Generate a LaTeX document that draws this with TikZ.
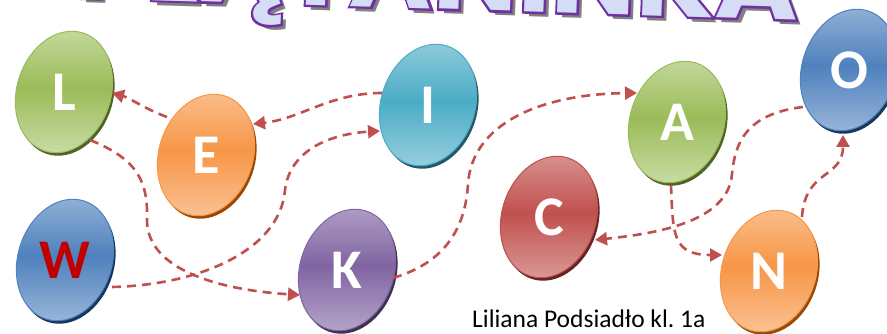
\documentclass[tikz,border=0pt]{standalone}
\usepackage{fontspec}
\setmainfont{Carlito}
\newfontfamily\ttlfont{Poppins}
\newfontfamily\ttlout{Poppins}[FakeBold=4]
\usetikzlibrary{shapes.geometric,arrows.meta,shadows}
\definecolor{grnM}{HTML}{9BBB59}\definecolor{grnL}{HTML}{C6DBA0}\definecolor{grnD}{HTML}{4F6228}
\definecolor{orgM}{HTML}{F79646}\definecolor{orgL}{HTML}{FAC090}\definecolor{orgD}{HTML}{984807}
\definecolor{teaM}{HTML}{4BACC6}\definecolor{teaL}{HTML}{93CDDD}\definecolor{teaD}{HTML}{215968}
\definecolor{bluM}{HTML}{4F81BD}\definecolor{bluL}{HTML}{95B3D7}\definecolor{bluD}{HTML}{17375E}
\definecolor{purM}{HTML}{8064A2}\definecolor{purL}{HTML}{B3A2C7}\definecolor{purD}{HTML}{3F3151}
\definecolor{redM}{HTML}{C0504D}\definecolor{redL}{HTML}{D99694}\definecolor{redD}{HTML}{632523}
\definecolor{wred}{HTML}{C00000}
\definecolor{ttlpurple}{HTML}{7030A0}
\definecolor{ttlfill}{HTML}{D4DCF6}
\tikzset{
  egg/.style n args={3}{ellipse, minimum width=94pt, minimum height=124pt, inner sep=0pt,
    rotate=-18, draw=#2, line width=1pt, top color=#1, bottom color=#1, middle color=#2,
    general shadow={fill=#3, shadow xshift=2pt, shadow yshift=-3pt}},
  letter/.style={font=\bfseries\fontsize{56}{56}\selectfont, text=white, inner sep=0pt},
  conn/.style={draw=redM, line width=2.6pt, dash pattern=on 9pt off 6pt,
    -{Triangle[length=12pt,width=13pt]}},
  ttl/.style={anchor=base, inner sep=0pt, xscale=1.13, rotate=-2},
}
\begin{document}
\begin{tikzpicture}[x=1pt,y=1pt]
\fill[white] (0,0) rectangle (887,334);
\useasboundingbox (0,0) rectangle (887,334);
% title (cut off at the top)
\begin{scope}
\clip (0,0) rectangle (887,334);
\node[ttl, text=gray, font=\ttlfont\bfseries\fontsize{100}{100}\selectfont] (tshadow) at (441,320) {PLĄTANINKA};
\node[ttl, text=ttlpurple, font=\ttlout\bfseries\fontsize{100}{100}\selectfont] (tout) at (436,325) {PLĄTANINKA};
\node[ttl, text=ttlfill, font=\ttlfont\bfseries\fontsize{100}{100}\selectfont] (tfill) at (436,325) {PLĄTANINKA};
\end{scope}
% eggs
\node[egg={grnL}{grnM}{grnD}] (L) at (64,242) {};
\node[egg={orgL}{orgM}{orgD}] (E) at (206,179) {};
\node[egg={bluL}{bluM}{bluD}] (W) at (65,74) {};
\node[egg={purL}{purM}{purD}] (K) at (347,64) {};
\node[egg={teaL}{teaM}{teaD}] (I) at (428,229) {};
\node[egg={redL}{redM}{redD}] (C) at (549,117) {};
\node[egg={grnL}{grnM}{grnD}] (A) at (677,212) {};
\node[egg={orgL}{orgM}{orgD}] (N) at (769,63) {};
\node[egg={bluL}{bluM}{bluD}] (O) at (849,264) {};
% letters
\node[letter] (Lt) at (L) {L};
\node[letter] (Et) at (E) {E};
\node[letter, text=wred] (Wt) at (W) {W};
\node[letter] (Kt) at (K) {K};
\node[letter] (It) at (I) {I};
\node[letter] (Ct) at (C) {C};
\node[letter] (At) at (A) {A};
\node[letter] (Nt) at (N) {N};
\node[letter] (Ot) at (O) {O};
% connectors
\draw[conn] ([shift={(47,-27)}]W.center) .. controls (200,49) and (280,84) .. (285,144)
  .. controls (290,184) and (330,200) .. ([shift={(-48,-26)}]I.center);
\draw[conn] ([shift={(-46,12)}]I.center) .. controls (330,241) and (300,215) .. ([shift={(47,31)}]E.center);
\draw[conn] ([shift={(-39,38)}]E.center) .. controls (145,225) and (130,236) .. ([shift={(48,-1)}]L.center);
\draw[conn] ([shift={(26,-48)}]L.center) .. controls (140,174) and (148,150) .. (147,114)
  .. controls (147,64) and (220,44) .. ([shift={(-47,-25)}]K.center);
\draw[conn] ([shift={(46,-8)}]K.center) .. controls (440,70) and (465,100) .. (468,150)
  .. controls (472,210) and (540,240) .. ([shift={(-40,29)}]A.center);
\draw[conn] ([shift={(-6,-63)}]A.center) .. controls (673,100) and (672,79) .. ([shift={(-47,16)}]N.center);
\draw[conn] ([shift={(33,54)}]N.center) .. controls (805,165) and (843,155) .. ([shift={(-6,-65)}]O.center);
\draw[conn] ([shift={(-46,-37)}]O.center) .. controls (745,220) and (735,190) .. (732,160)
  .. controls (728,110) and (650,100) .. ([shift={(46,-23)}]C.center);
% caption
\node[anchor=base west, inner sep=0pt, font=\fontsize{25.5}{25.5}\selectfont] (cap) at (472,6) {Liliana Podsiadło kl.\ 1a};
\end{tikzpicture}
\end{document}
